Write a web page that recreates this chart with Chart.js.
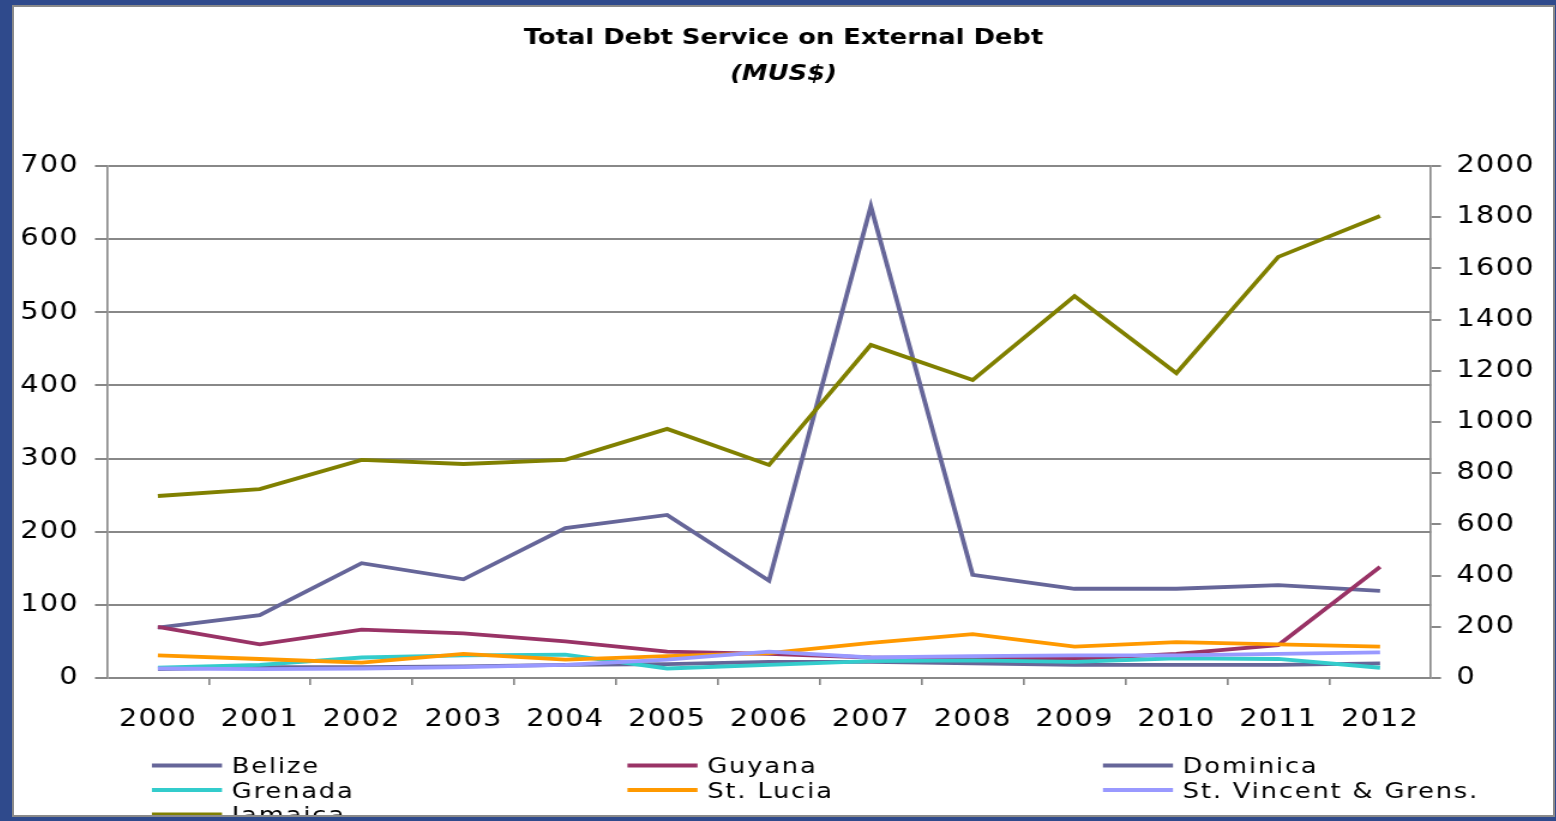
<!DOCTYPE html>
<html>
<head>
<meta charset="utf-8">
<title>Total Debt Service on External Debt</title>
<script src="https://cdn.jsdelivr.net/npm/chart.js@4.4.1/dist/chart.umd.min.js"></script>
<style>
  html, body { margin: 0; padding: 0; width: 1556px; height: 821px; overflow: hidden; background: #2f4a8c; }
  #frame { position: absolute; left: 12px; top: 5px; width: 1539px; height: 808px;
           border: 2px solid #8a8a8a; background: #ffffff; overflow: hidden; }
  /* the drawing is widened horizontally to the frame width */
  #debt { display: block; width: 1283px; height: 808px; transform-origin: 0 0; transform: scaleX(1.19953); }
</style>
</head>
<body>
<div id="frame"><canvas id="debt" width="1283" height="808"></canvas></div>
<script>
// Years on the category axis
const years = ['2000', '2001', '2002', '2003', '2004', '2005', '2006',
               '2007', '2008', '2009', '2010', '2011', '2012'];

// Debt service per country, millions of US$ (left axis)
const belize    = [69, 86, 157, 135, 205, 223, 133, 645, 141, 122, 122, 127, 119];
const guyana    = [70, 46, 66, 61, 50, 36, 33, 28, 27, 26, 33, 45, 152];
const dominica  = [12, 15, 15, 16, 18, 19, 22, 22, 20, 18, 18, 18, 20];
const grenada   = [14, 18, 28, 31, 32, 13, 18, 23, 24, 22, 27, 26, 14];
const stLucia   = [31, 26, 21, 33, 25, 30, 34, 48, 60, 43, 49, 46, 43];
const stVincent = [13, 12, 13, 15, 18, 25, 36, 28, 30, 31, 31, 33, 35];
// Jamaica, millions of US$ (right axis)
const jamaica   = [711, 738, 852, 836, 852, 973, 832, 1301, 1164, 1492, 1191, 1645, 1805];

// Axis ranges
const leftMax = 700, leftStep = 100;
const rightMax = 2000, rightStep = 200;

const chartTitle = 'Total Debt Service on External Debt';
const chartSubtitle = '(MUS$)';

const seriesList = [
  { label: 'Belize',               data: belize,    color: '#666699', axis: 'y' },
  { label: 'Guyana',               data: guyana,    color: '#993366', axis: 'y' },
  { label: 'Dominica',             data: dominica,  color: '#666699', axis: 'y' },
  { label: 'Grenada',              data: grenada,   color: '#33cccc', axis: 'y' },
  { label: 'St. Lucia',            data: stLucia,   color: '#ff9900', axis: 'y' },
  { label: 'St. Vincent & Grens.', data: stVincent, color: '#9999ff', axis: 'y' },
  { label: 'Jamaica',              data: jamaica,   color: '#808000', axis: 'y1' }
];

const GRID = '#888888';
const FONT = 'DejaVu Sans';
const VLINE = 1.67;   // vertical strokes come out ~2px after widening

// Letter spacing for the different text layers
const textSpacing = {
  id: 'letterSpacing',
  beforeLayout(chart) { chart.ctx.letterSpacing = '1px'; },
  beforeDraw(chart) { chart.ctx.letterSpacing = '0px'; },        // title + subtitle
  afterDatasetsDraw(chart) { chart.ctx.letterSpacing = '1px'; }  // tick labels
};

// Three-column legend under the axis
const gridLegend = {
  id: 'gridLegend',
  afterDraw(chart) {
    const ctx = chart.ctx;
    ctx.save();
    ctx.letterSpacing = '1.5px';
    ctx.font = '21.5px "' + FONT + '"';
    ctx.textAlign = 'left';
    ctx.textBaseline = 'alphabetic';
    chart.data.datasets.forEach((ds, i) => {
      const col = i % 3;
      const row = Math.floor(i / 3);
      const x = 115 + col * 396.4;
      const y = 758.5 + row * 24.5;
      ctx.strokeStyle = ds.borderColor;
      ctx.lineWidth = 4;
      ctx.beginPath();
      ctx.moveTo(x, y);
      ctx.lineTo(x + 58.4, y);
      ctx.stroke();
      ctx.fillStyle = '#000000';
      ctx.fillText(ds.label, x + 66.5, y + 7.5);
    });
    ctx.restore();
  }
};

const n = seriesList.length;
const datasets = seriesList.map((s, i) => ({
  label: s.label,
  data: s.data,
  yAxisID: s.axis,
  borderColor: s.color,
  backgroundColor: s.color,
  borderWidth: 3.8,
  pointRadius: 0,
  pointHoverRadius: 0,
  tension: 0,
  fill: false,
  order: n - 1 - i
}));

const plainNumber = v => String(v);

new Chart(document.getElementById('debt'), {
  type: 'line',
  data: { labels: years, datasets },
  plugins: [textSpacing, gridLegend],
  options: {
    responsive: false,
    devicePixelRatio: 1,
    animation: false,
    events: [],
    layout: { padding: { left: 0, right: 0, top: 0, bottom: 0 } },
    plugins: {
      legend: { display: false },
      tooltip: { enabled: false },
      title: {
        display: true,
        text: chartTitle,
        color: '#000000',
        font: { family: FONT, size: 21.5, weight: 'bold', lineHeight: 1.2 },
        padding: { top: 19, bottom: 0 }
      },
      subtitle: {
        display: true,
        text: chartSubtitle,
        color: '#000000',
        font: { family: FONT, size: 21.5, weight: 'bold', style: 'italic', lineHeight: 1.2 },
        padding: { top: 10, bottom: 78.4 }
      }
    },
    scales: {
      x: {
        type: 'category',
        offset: true,
        grid: {
          offset: true,
          drawOnChartArea: false,
          drawTicks: true,
          tickLength: 7,
          lineWidth: VLINE,
          color: GRID,
          tickColor: c => (c.index === 0 || c.index === undefined) ? 'rgba(0,0,0,0)' : GRID
        },
        border: { display: false },
        ticks: {
          z: 1,
          color: '#000000',
          font: { family: FONT, size: 24 },
          padding: 20,
          maxRotation: 0,
          autoSkip: false
        },
        afterFit: s => { s.height = 137; }
      },
      y: {
        position: 'left',
        min: 0,
        max: leftMax,
        grid: { color: GRID, lineWidth: 2, tickLength: 10 },
        border: { display: true, color: GRID, width: VLINE },
        ticks: {
          z: 1,
          stepSize: leftStep,
          callback: plainNumber,
          color: '#000000',
          font: { family: FONT, size: 24 },
          padding: 13.5
        },
        afterFit: s => { s.width = 77.5; }
      },
      y1: {
        position: 'right',
        min: 0,
        max: rightMax,
        grid: { drawOnChartArea: false, color: GRID, lineWidth: 2, tickLength: 8.3 },
        border: { display: true, color: GRID, width: VLINE },
        ticks: {
          z: 1,
          stepSize: rightStep,
          callback: plainNumber,
          color: '#000000',
          font: { family: FONT, size: 24 },
          padding: 13
        },
        afterFit: s => { s.width = 101.7; }
      }
    }
  }
});
</script>
</body>
</html>
